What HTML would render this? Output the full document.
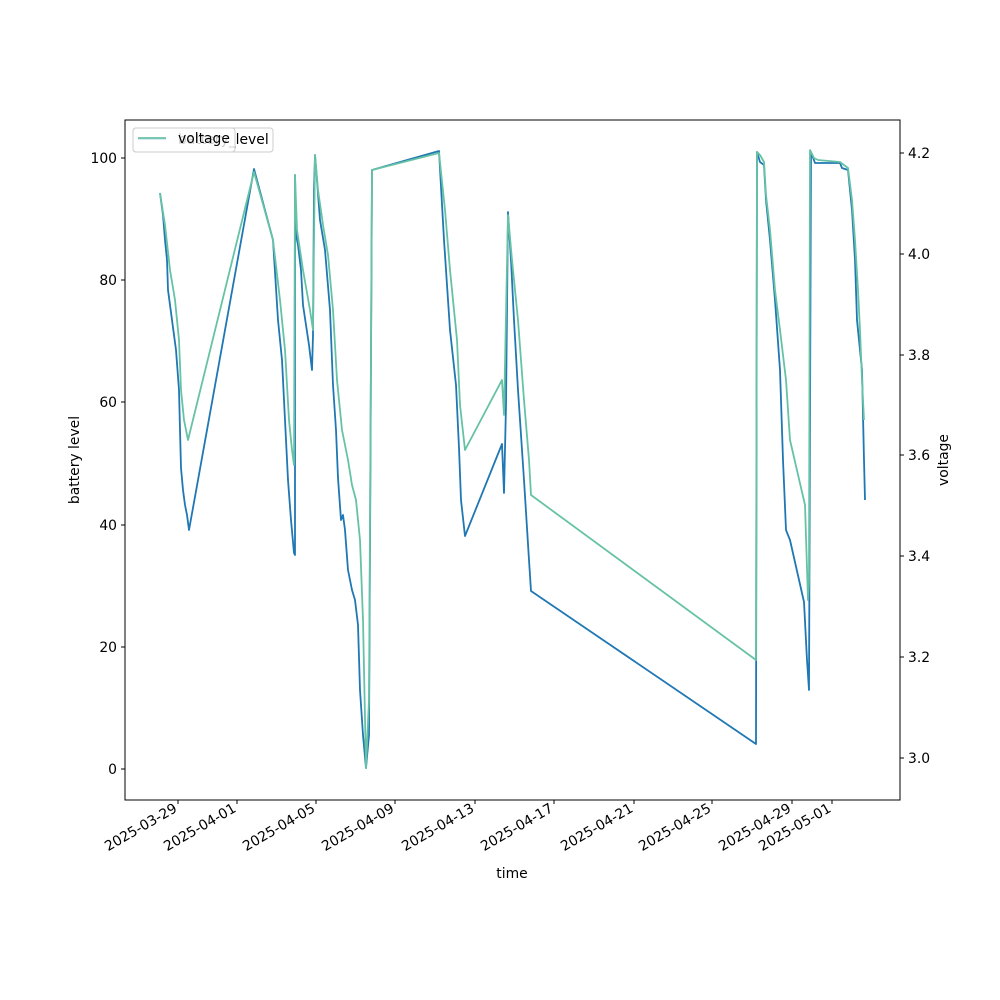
<!DOCTYPE html>
<html><head><meta charset="utf-8"><style>body{margin:0;background:#fff}svg{display:block}text{font-family:"DejaVu Sans","Liberation Sans",sans-serif;font-size:13.9px;fill:#000}</style></head><body>
<svg width="1000" height="1000" viewBox="0 0 1000 1000" xmlns="http://www.w3.org/2000/svg">
<rect width="1000" height="1000" fill="#fff"/>
<polyline fill="none" stroke="#1f77b4" stroke-width="1.8" stroke-linejoin="round" points="160,193 163,215 165,240 167,260 168,290 172,320 176,350 179,390 180,430 181,468 183,490 185,505 187,515 189,530 254,169 273,240 278,320 282,360 285,420 288,480 291,520 294,553 295,555 295,175 296,235 298,245 301,270 303,305 306,325 309,345 312,370 313,335 314,190 315,155 317,180 320,220 325,250 330,310 333,385 336,430 338,478 341,520 343,515 345,530 348,570 352,590 355,600 358,625 360,690 363,735 366,768 369,735 372,170 439,151 444,240 450,330 456,385 459,448 461,500 465,536 502,444 504,493 506,405 508,212 511,260 514,320 518,390 524,480 529,560 531,591 756,744 757,152 760,162 764,165 766,200 770,240 775,300 780,370 783,460 786,530 790,540 804,602 807,660 809,690 811,152 815,163 840,163 842,168 848,170 852,210 855,260 857,320 860,350 862,370 864,460 865,500"/>
<polyline fill="none" stroke="#66c2a5" stroke-width="1.8" stroke-linejoin="round" points="160,193 165,225 170,270 175,300 179,340 181,390 184,420 188,440 254,172 273,240 280,300 285,350 289,420 292,450 294,465 295,175 297,230 303,270 310,310 313,330 315,155 318,190 323,225 328,255 333,310 337,380 342,430 348,460 352,485 356,500 360,540 363,620 366,768 369,700 372,170 439,153 445,210 450,270 457,340 460,405 465,450 502,380 504,415 508,215 512,260 518,320 524,400 529,460 531,495 756,660 757,152 760,155 764,162 766,195 770,230 775,290 780,330 786,380 790,440 805,505 808,600 809,580 810,150 814,158 818,160 840,162 848,168 852,200 855,240 858,290 860,330 862,380 864,420"/>
<rect x="125" y="120" width="775" height="680" fill="none" stroke="#000" stroke-width="1"/>
<g stroke="#000">
<line x1="125" y1="769" x2="121" y2="769"/><line x1="125" y1="647" x2="121" y2="647"/><line x1="125" y1="525" x2="121" y2="525"/><line x1="125" y1="402" x2="121" y2="402"/><line x1="125" y1="280" x2="121" y2="280"/><line x1="125" y1="158" x2="121" y2="158"/>
<line x1="900" y1="758" x2="904" y2="758"/><line x1="900" y1="657" x2="904" y2="657"/><line x1="900" y1="556" x2="904" y2="556"/><line x1="900" y1="455" x2="904" y2="455"/><line x1="900" y1="355" x2="904" y2="355"/><line x1="900" y1="254" x2="904" y2="254"/><line x1="900" y1="153" x2="904" y2="153"/>
<line x1="178" y1="800" x2="178" y2="804"/><line x1="237" y1="800" x2="237" y2="804"/><line x1="316" y1="800" x2="316" y2="804"/><line x1="395" y1="800" x2="395" y2="804"/><line x1="475" y1="800" x2="475" y2="804"/><line x1="554" y1="800" x2="554" y2="804"/><line x1="634" y1="800" x2="634" y2="804"/><line x1="712" y1="800" x2="712" y2="804"/><line x1="792" y1="800" x2="792" y2="804"/><line x1="832" y1="800" x2="832" y2="804"/>
</g>
<g text-anchor="end">
<text x="117" y="774">0</text><text x="117" y="652">20</text><text x="117" y="530">40</text><text x="117" y="407">60</text><text x="117" y="285">80</text><text x="117" y="163">100</text>
</g>
<g>
<text x="908" y="763">3.0</text><text x="908" y="662">3.2</text><text x="908" y="561">3.4</text><text x="908" y="460">3.6</text><text x="908" y="360">3.8</text><text x="908" y="259">4.0</text><text x="908" y="158">4.2</text>
</g>
<g text-anchor="end">
<text transform="translate(178,811) rotate(-30)">2025-03-29</text>
<text transform="translate(237,811) rotate(-30)">2025-04-01</text>
<text transform="translate(316,811) rotate(-30)">2025-04-05</text>
<text transform="translate(395,811) rotate(-30)">2025-04-09</text>
<text transform="translate(475,811) rotate(-30)">2025-04-13</text>
<text transform="translate(554,811) rotate(-30)">2025-04-17</text>
<text transform="translate(634,811) rotate(-30)">2025-04-21</text>
<text transform="translate(712,811) rotate(-30)">2025-04-25</text>
<text transform="translate(792,811) rotate(-30)">2025-04-29</text>
<text transform="translate(832,811) rotate(-30)">2025-05-01</text>
</g>
<text x="512" y="878" text-anchor="middle">time</text>
<text transform="translate(79,460) rotate(-90)" text-anchor="middle">battery level</text>
<text transform="translate(948,460) rotate(-90)" text-anchor="middle">voltage</text>
<rect x="133" y="128" width="140" height="24" rx="3" fill="#fff" fill-opacity="0.8" stroke="#ccc"/>
<line x1="138" y1="139" x2="166" y2="139" stroke="#1f77b4" stroke-width="1.8"/>
<text x="178" y="144">battery_level</text>
<rect x="133" y="128" width="102" height="24" rx="3" fill="#fff" fill-opacity="0.8" stroke="#ccc"/>
<line x1="138" y1="138" x2="166" y2="138" stroke="#66c2a5" stroke-width="1.8"/>
<text x="178" y="143">voltage</text>
</svg>
</body></html>
